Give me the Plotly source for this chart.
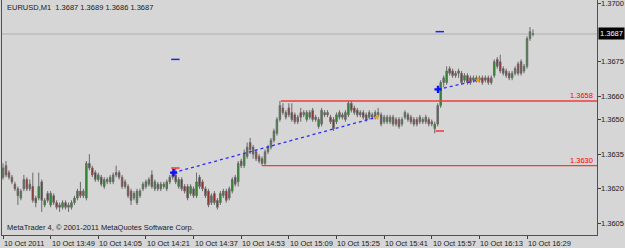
import plotly.graph_objects as go
import pandas as pd

symbol_title = "EURUSD,M1  1.3687 1.3689 1.3686 1.3687"
copyright_text = "MetaTrader 4, \u00a9 2001-2011 MetaQuotes Software Corp."
start_time = "2011-10-10 13:33"

opens = [1.3625, 1.3630, 1.3627, 1.3625, 1.3622, 1.3620, 1.3616, 1.3620, 1.3624, 1.3620,
         1.3621, 1.3616, 1.3616, 1.3623, 1.3613, 1.3618, 1.3613, 1.3617, 1.3614, 1.3613,
         1.3612, 1.3614, 1.3612, 1.3612, 1.3614, 1.3616, 1.3619, 1.3617, 1.3616, 1.3631,
         1.3629, 1.3627, 1.3624, 1.3625, 1.3621, 1.3623, 1.3623, 1.3623, 1.3627, 1.3627,
         1.3625, 1.3623, 1.3621, 1.3619, 1.3616, 1.3614, 1.3617, 1.3620, 1.3621, 1.3622,
         1.3626, 1.3620, 1.3622, 1.3620, 1.3622, 1.3620, 1.3623, 1.3627, 1.3626, 1.3621,
         1.3624, 1.3621, 1.3621, 1.3618, 1.3620, 1.3617, 1.3625, 1.3623, 1.3620, 1.3619,
         1.3614, 1.3618, 1.3615, 1.3614, 1.3617, 1.3619, 1.3616, 1.3619, 1.3625, 1.3623,
         1.3632, 1.3630, 1.3634, 1.3640, 1.3638, 1.3636, 1.3634, 1.3633, 1.3631, 1.3636,
         1.3638, 1.3641, 1.3644, 1.3650, 1.3655, 1.3651, 1.3655, 1.3653, 1.3652, 1.3649,
         1.3653, 1.3652, 1.3650, 1.3651, 1.3654, 1.3651, 1.3647, 1.3648, 1.3652, 1.3653,
         1.3651, 1.3650, 1.3649, 1.3651, 1.3652, 1.3650, 1.3652, 1.3657, 1.3655, 1.3654,
         1.3653, 1.3653, 1.3652, 1.3651, 1.3652, 1.3651, 1.3652, 1.3652, 1.3649, 1.3649,
         1.3649, 1.3651, 1.3650, 1.3650, 1.3648, 1.3651, 1.3652, 1.3651, 1.3650, 1.3650,
         1.3649, 1.3649, 1.3649, 1.3650, 1.3649, 1.3646, 1.3648, 1.3656, 1.3666, 1.3666,
         1.3672, 1.3671, 1.3670, 1.3671, 1.3670, 1.3667, 1.3669, 1.3668, 1.3667, 1.3667,
         1.3668, 1.3668, 1.3668, 1.3668, 1.3666, 1.3669, 1.3676, 1.3675, 1.3672, 1.3671,
         1.3670, 1.3668, 1.3670, 1.3674, 1.3675, 1.3671, 1.3673, 1.3685, 1.3687]
highs = [1.3631, 1.3632, 1.3628, 1.3626, 1.3623, 1.3621, 1.3620, 1.3626, 1.3625, 1.3624,
         1.3627, 1.3617, 1.3627, 1.3624, 1.3616, 1.3619, 1.3619, 1.3618, 1.3615, 1.3614,
         1.3615, 1.3615, 1.3614, 1.3615, 1.3617, 1.3620, 1.3623, 1.3620, 1.3632, 1.3635,
         1.3630, 1.3628, 1.3627, 1.3626, 1.3625, 1.3625, 1.3626, 1.3627, 1.3630, 1.3628,
         1.3626, 1.3624, 1.3622, 1.3620, 1.3619, 1.3620, 1.3620, 1.3623, 1.3624, 1.3625,
         1.3628, 1.3624, 1.3623, 1.3623, 1.3623, 1.3624, 1.3626, 1.3629, 1.3629, 1.3625,
         1.3625, 1.3622, 1.3622, 1.3622, 1.3621, 1.3627, 1.3626, 1.3624, 1.3621, 1.3620,
         1.3618, 1.3619, 1.3616, 1.3619, 1.3620, 1.3620, 1.3621, 1.3625, 1.3626, 1.3632,
         1.3633, 1.3637, 1.3640, 1.3642, 1.3639, 1.3637, 1.3635, 1.3634, 1.3637, 1.3639,
         1.3642, 1.3646, 1.3651, 1.3658, 1.3657, 1.3654, 1.3657, 1.3657, 1.3653, 1.3652,
         1.3655, 1.3654, 1.3654, 1.3654, 1.3655, 1.3652, 1.3651, 1.3655, 1.3654, 1.3654,
         1.3652, 1.3651, 1.3653, 1.3654, 1.3653, 1.3654, 1.3658, 1.3658, 1.3656, 1.3655,
         1.3654, 1.3654, 1.3653, 1.3654, 1.3653, 1.3654, 1.3655, 1.3653, 1.3652, 1.3652,
         1.3652, 1.3652, 1.3651, 1.3651, 1.3651, 1.3654, 1.3653, 1.3652, 1.3651, 1.3651,
         1.3652, 1.3651, 1.3652, 1.3651, 1.3650, 1.3649, 1.3657, 1.3667, 1.3669, 1.3673,
         1.3673, 1.3672, 1.3671, 1.3672, 1.3671, 1.3670, 1.3670, 1.3669, 1.3669, 1.3669,
         1.3669, 1.3669, 1.3669, 1.3669, 1.3669, 1.3676, 1.3677, 1.3678, 1.3673, 1.3672,
         1.3671, 1.3671, 1.3673, 1.3675, 1.3676, 1.3674, 1.3686, 1.3690, 1.3689]
lows = [1.3624, 1.3625, 1.3624, 1.3622, 1.3619, 1.3613, 1.3615, 1.3619, 1.3619, 1.3619,
        1.3614, 1.3612, 1.3615, 1.3610, 1.3612, 1.3614, 1.3612, 1.3613, 1.3611, 1.3610,
        1.3611, 1.3611, 1.3610, 1.3611, 1.3613, 1.3615, 1.3616, 1.3616, 1.3615, 1.3628,
        1.3625, 1.3623, 1.3623, 1.3621, 1.3620, 1.3622, 1.3622, 1.3622, 1.3625, 1.3624,
        1.3620, 1.3620, 1.3616, 1.3613, 1.3615, 1.3613, 1.3616, 1.3619, 1.3620, 1.3621,
        1.3620, 1.3619, 1.3619, 1.3619, 1.3620, 1.3619, 1.3622, 1.3624, 1.3622, 1.3620,
        1.3619, 1.3618, 1.3615, 1.3617, 1.3616, 1.3616, 1.3620, 1.3619, 1.3616, 1.3612,
        1.3613, 1.3613, 1.3611, 1.3613, 1.3616, 1.3614, 1.3615, 1.3618, 1.3621, 1.3621,
        1.3629, 1.3629, 1.3633, 1.3635, 1.3633, 1.3632, 1.3631, 1.3630, 1.3630, 1.3635,
        1.3637, 1.3640, 1.3643, 1.3649, 1.3652, 1.3650, 1.3651, 1.3649, 1.3648, 1.3648,
        1.3649, 1.3651, 1.3649, 1.3650, 1.3649, 1.3649, 1.3646, 1.3647, 1.3651, 1.3651,
        1.3648, 1.3645, 1.3648, 1.3650, 1.3650, 1.3649, 1.3651, 1.3653, 1.3652, 1.3651,
        1.3651, 1.3650, 1.3649, 1.3650, 1.3650, 1.3650, 1.3651, 1.3647, 1.3648, 1.3648,
        1.3648, 1.3647, 1.3647, 1.3646, 1.3647, 1.3650, 1.3649, 1.3648, 1.3647, 1.3647,
        1.3648, 1.3648, 1.3648, 1.3647, 1.3647, 1.3644, 1.3647, 1.3655, 1.3664, 1.3665,
        1.3669, 1.3668, 1.3668, 1.3668, 1.3665, 1.3666, 1.3665, 1.3665, 1.3666, 1.3666,
        1.3666, 1.3665, 1.3666, 1.3665, 1.3665, 1.3668, 1.3672, 1.3670, 1.3669, 1.3668,
        1.3667, 1.3667, 1.3669, 1.3669, 1.3669, 1.3670, 1.3672, 1.3684, 1.3686]
closes = [1.3629, 1.3626, 1.3625, 1.3623, 1.3620, 1.3617, 1.3619, 1.3624, 1.3620, 1.3622,
          1.3615, 1.3614, 1.3621, 1.3615, 1.3615, 1.3615, 1.3618, 1.3614, 1.3612, 1.3612,
          1.3614, 1.3612, 1.3613, 1.3614, 1.3616, 1.3619, 1.3617, 1.3619, 1.3631, 1.3629,
          1.3626, 1.3624, 1.3626, 1.3622, 1.3624, 1.3624, 1.3625, 1.3626, 1.3626, 1.3625,
          1.3621, 1.3621, 1.3617, 1.3615, 1.3618, 1.3619, 1.3619, 1.3622, 1.3623, 1.3624,
          1.3621, 1.3623, 1.3620, 1.3622, 1.3621, 1.3623, 1.3625, 1.3625, 1.3623, 1.3624,
          1.3620, 1.3619, 1.3616, 1.3621, 1.3617, 1.3623, 1.3621, 1.3620, 1.3617, 1.3613,
          1.3617, 1.3614, 1.3612, 1.3618, 1.3619, 1.3615, 1.3620, 1.3624, 1.3622, 1.3631,
          1.3630, 1.3635, 1.3638, 1.3637, 1.3635, 1.3633, 1.3632, 1.3631, 1.3636, 1.3638,
          1.3641, 1.3645, 1.3650, 1.3656, 1.3653, 1.3653, 1.3652, 1.3650, 1.3649, 1.3651,
          1.3651, 1.3653, 1.3653, 1.3653, 1.3650, 1.3650, 1.3650, 1.3654, 1.3653, 1.3652,
          1.3649, 1.3646, 1.3652, 1.3653, 1.3651, 1.3653, 1.3657, 1.3654, 1.3653, 1.3652,
          1.3652, 1.3651, 1.3650, 1.3653, 1.3651, 1.3653, 1.3653, 1.3648, 1.3651, 1.3651,
          1.3651, 1.3648, 1.3648, 1.3647, 1.3650, 1.3653, 1.3650, 1.3649, 1.3648, 1.3648,
          1.3651, 1.3650, 1.3651, 1.3648, 1.3648, 1.3648, 1.3656, 1.3666, 1.3668, 1.3671,
          1.3670, 1.3669, 1.3669, 1.3670, 1.3666, 1.3669, 1.3666, 1.3666, 1.3668, 1.3668,
          1.3667, 1.3666, 1.3667, 1.3666, 1.3668, 1.3675, 1.3673, 1.3671, 1.3670, 1.3669,
          1.3668, 1.3670, 1.3672, 1.3670, 1.3670, 1.3673, 1.3685, 1.3688, 1.3687]

y_tickvals = [1.3605, 1.3620, 1.3635, 1.3650, 1.3660, 1.3675, 1.3700]
current_price = 1.3687
level_prices = [1.3658, 1.3630]
level_start_bar = [93.3, 87.0]

trade_open_bar = [57.3, 146.1]
trade_open_price = [1.3627, 1.3663]
trade_close_bar = [125.6, 159.6]
trade_close_price = [1.3651, 1.3667]
trade_tp = [1.3676, 1.3688]
trade_sl = [1.3629, 1.3645]

times = pd.date_range(start_time, periods=len(closes), freq="min")
bars = list(range(len(closes)))
tick_bars = bars[::16]
tick_text = ["10 Oct 2011" if k == 0 else times[k].strftime("10 Oct %H:%M") for k in tick_bars]

FONT = "Liberation Sans"
BG = "#d6d6d6"
TXT = "#202020"

fig = go.Figure()
fig.add_trace(go.Candlestick(
    x=bars, open=opens, high=highs, low=lows, close=closes,
    increasing=dict(line=dict(color="#6a6a6a", width=1), fillcolor="#00a000"),
    decreasing=dict(line=dict(color="#6a6a6a", width=1), fillcolor="#b00000"),
    whiskerwidth=0, showlegend=False, hoverinfo="skip"))

for k in range(len(trade_open_bar)):
    fig.add_trace(go.Scatter(
        x=[trade_open_bar[k], trade_close_bar[k]],
        y=[trade_open_price[k], trade_close_price[k]],
        mode="lines", line=dict(color="#2a2aff", width=1.3, dash="dot"),
        showlegend=False, hoverinfo="skip"))

fig.add_trace(go.Scatter(x=[b + 0.6 for b in trade_open_bar], y=trade_tp, mode="markers",
                         marker=dict(symbol="line-ew", size=6, line=dict(color="#2020ff", width=1.5)),
                         showlegend=False, hoverinfo="skip"))
fig.add_trace(go.Scatter(x=[b + 0.6 for b in trade_open_bar], y=trade_sl, mode="markers",
                         marker=dict(symbol="line-ew", size=6, line=dict(color="#ff3030", width=1.5)),
                         showlegend=False, hoverinfo="skip"))
fig.add_trace(go.Scatter(x=trade_open_bar, y=trade_open_price, mode="markers",
                         marker=dict(symbol="cross", size=6, color="#1010ff"),
                         showlegend=False, hoverinfo="skip"))
fig.add_trace(go.Scatter(x=trade_close_bar, y=trade_close_price, mode="markers",
                         marker=dict(symbol="triangle-left", size=5, color="#f0a020"),
                         showlegend=False, hoverinfo="skip"))

shapes = [dict(type="line", xref="paper", x0=0, x1=1, yref="y", y0=current_price, y1=current_price,
               line=dict(color="#bcbcbc", width=1.5), layer="below")]
for p, b in zip(level_prices, level_start_bar):
    shapes.append(dict(type="line", xref="x", x0=b, x1=260, yref="y", y0=p, y1=p,
                       line=dict(color="#f03c3c", width=1.3)))

annotations = [
    dict(text=symbol_title, xref="paper", yref="paper", x=0, y=1, xanchor="left", yanchor="top",
         xshift=3, yshift=-1, showarrow=False, font=dict(family=FONT, size=7.5, color=TXT)),
    dict(text=copyright_text, xref="paper", yref="paper", x=0, y=0, xanchor="left", yanchor="bottom",
         xshift=3, yshift=1, showarrow=False, font=dict(family=FONT, size=7.5, color=TXT)),
]
for v in y_tickvals:
    annotations.append(dict(text=f"{v:.4f}", xref="paper", yref="y", x=1, y=v, xanchor="left",
                            yanchor="middle", xshift=2, showarrow=False,
                            font=dict(family=FONT, size=7.5, color=TXT)))
annotations.append(dict(text=f"{current_price:.4f}", xref="paper", yref="y", x=1, y=current_price,
                        xanchor="left", yanchor="middle", xshift=1, showarrow=False,
                        bgcolor="#000000", borderpad=1,
                        font=dict(family=FONT, size=7.5, color="#ffffff")))
for p in level_prices:
    annotations.append(dict(text=f"{p:.4f}", xref="paper", yref="y", x=1, y=p, xanchor="right",
                            yanchor="bottom", xshift=-2, yshift=-1, showarrow=False,
                            font=dict(family=FONT, size=7.5, color="#ff0000")))
for b, t in zip(tick_bars, tick_text):
    annotations.append(dict(text=t, xref="x", yref="paper", x=b, y=0, xanchor="left", yanchor="top",
                            xshift=-1, yshift=-2, showarrow=False,
                            font=dict(family=FONT, size=7.5, color=TXT)))

fig.update_layout(
    width=625, height=248,
    margin=dict(l=2, r=28, t=0, b=13),
    paper_bgcolor=BG, plot_bgcolor=BG,
    shapes=shapes, annotations=annotations,
    xaxis=dict(range=[-0.34, 199.5], rangeslider=dict(visible=False), showgrid=False, zeroline=False,
               tickvals=tick_bars, ticktext=[""] * len(tick_bars), ticks="outside", ticklen=3,
               tickcolor="#404040", showline=True, linecolor="#505050", linewidth=1),
    yaxis=dict(range=[1.3600, 1.37017], side="right", showgrid=False, zeroline=False,
               tickvals=y_tickvals, showticklabels=False,
               ticks="outside", ticklen=3, tickcolor="#404040",
               showline=True, mirror=True, linecolor="#505050", linewidth=1),
    font=dict(family=FONT),
)

fig.write_html("out.html")
